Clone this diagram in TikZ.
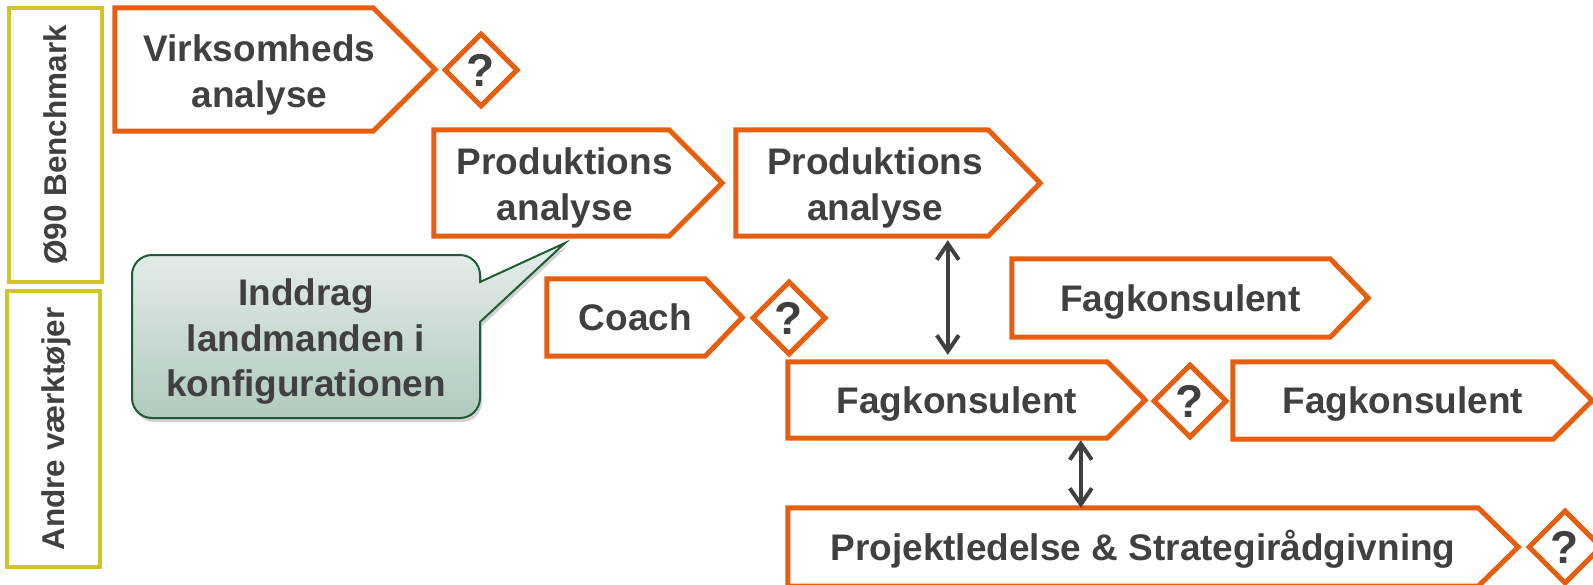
\documentclass[tikz,border=0pt]{standalone}
\usepackage{fontspec}
\setmainfont{Liberation Sans}
\usetikzlibrary{shapes.geometric,arrows.meta,shadows}
\definecolor{orng}{HTML}{E65F10}
\definecolor{ylw}{HTML}{D3C32B}
\definecolor{txtg}{HTML}{404040}
\definecolor{cgreen}{HTML}{1F5C34}
\definecolor{ctop}{HTML}{E6EEE9}
\definecolor{cbot}{HTML}{B1CABC}
\newcommand\chevout[2]{\draw[chevline] (#1.north west) -- ([xshift=-#2/2]#1.north east) -- ([xshift=#2/2]#1.east) -- ([xshift=-#2/2]#1.south east) -- (#1.south west) -- cycle;}
\begin{document}
\begin{tikzpicture}[x=1pt,y=-1pt,
 every node/.style={text=txtg, font=\bfseries},
 big/.style={font=\fontsize{37}{46}\selectfont\bfseries},
 chevbox/.style={big, inner sep=0pt, align=center},
 oneline/.style={text height=26.6pt, text depth=0pt},
 chevline/.style={draw=orng, line width=5pt},
 qmark/.style={shape=diamond, draw=orng, line width=5pt, inner sep=0pt, minimum width=74pt, minimum height=74pt, font=\fontsize{46}{50}\selectfont\bfseries, text height=33.5pt, text depth=0pt},
 ybox/.style={draw=ylw, line width=4.5pt, inner sep=0pt, rotate=90, font=\fontsize{31.5}{36}\selectfont\bfseries, text height=22.6pt, text depth=0pt},
 dbl/.style={draw=txtg, line width=4pt, {Straight Barb[length=16pt,width=22pt]}-{Straight Barb[length=16pt,width=22pt]}},
]
\useasboundingbox (0,0) rectangle (1593,584);

% side labels
\node[ybox, minimum width=274pt, minimum height=93pt] (ybench) at (55.5,145) {Ø90 Benchmark};
\node[ybox, minimum width=276pt, minimum height=93pt] (yandre) at (53.5,429) {Andre værktøjer};

% callout
\path[draw=cgreen, line width=2pt, top color=ctop, bottom color=cbot,
      drop shadow={shadow xshift=2pt, shadow yshift=-4pt, opacity=0.3, fill=black!60}]
 (152,255) -- (460,255) arc(-90:0:20) -- (480,282) -- (565,243) -- (480,322)
 -- (480,398) arc(0:90:20) -- (152,418) arc(90:180:20) -- (132,275) arc(180:270:20) -- cycle;
\node[font=\fontsize{37}{45.5}\selectfont\bfseries, align=center, inner sep=0pt] (cl) at (306,336.5)
 {\rule{0pt}{1em}Inddrag\\landmanden i\\konfigurationen};

% chevron boxes
\node[chevbox, minimum width=289pt, minimum height=123pt] (vb) at (259.5,69.5) {\rule{0pt}{1em}Virksomheds\\analyse};
\chevout{vb}{62}
\node[chevbox, minimum width=261.5pt, minimum height=106pt] (p1) at (564.75,183) {\rule{0pt}{1em}Produktions\\analyse};
\chevout{p1}{53}
\node[chevbox, minimum width=278pt, minimum height=106pt] (p2) at (875,183) {\rule{0pt}{1em}Produktions\\analyse};
\chevout{p2}{52}
\node[chevbox, oneline, minimum width=176.5pt, minimum height=77pt] (co) at (635.25,317.5) {Coach};
\chevout{co}{37}
\node[chevbox, oneline, minimum width=337pt, minimum height=78pt] (f1) at (1180.5,298) {Fagkonsulent};
\chevout{f1}{38}
\node[chevbox, oneline, minimum width=338pt, minimum height=76pt] (f2) at (957,400) {Fagkonsulent};
\chevout{f2}{38}
\node[chevbox, oneline, minimum width=339.5pt, minimum height=77pt] (f3) at (1402.75,400.5) {Fagkonsulent};
\chevout{f3}{39}
\node[chevbox, oneline, minimum width=710pt, minimum height=78pt] (pj) at (1143,547) {Projektledelse \& Strategirådgivning};
\chevout{pj}{40}

% question diamonds
\node[qmark] (q1) at (481,70) {?};
\node[qmark] (q2) at (789,318) {?};
\node[qmark] (q3) at (1190,401) {?};
\node[qmark] (q4) at (1565,547) {?};

% connectors
\draw[dbl, shorten <=4pt, shorten >=7pt] ([xshift=212pt]p2.south west) -- ([xshift=160pt]f2.north west);
\draw[dbl, shorten <=2pt] ([xshift=293pt]f2.south west) -- ([xshift=293pt]pj.north west);
\end{tikzpicture}
\end{document}
